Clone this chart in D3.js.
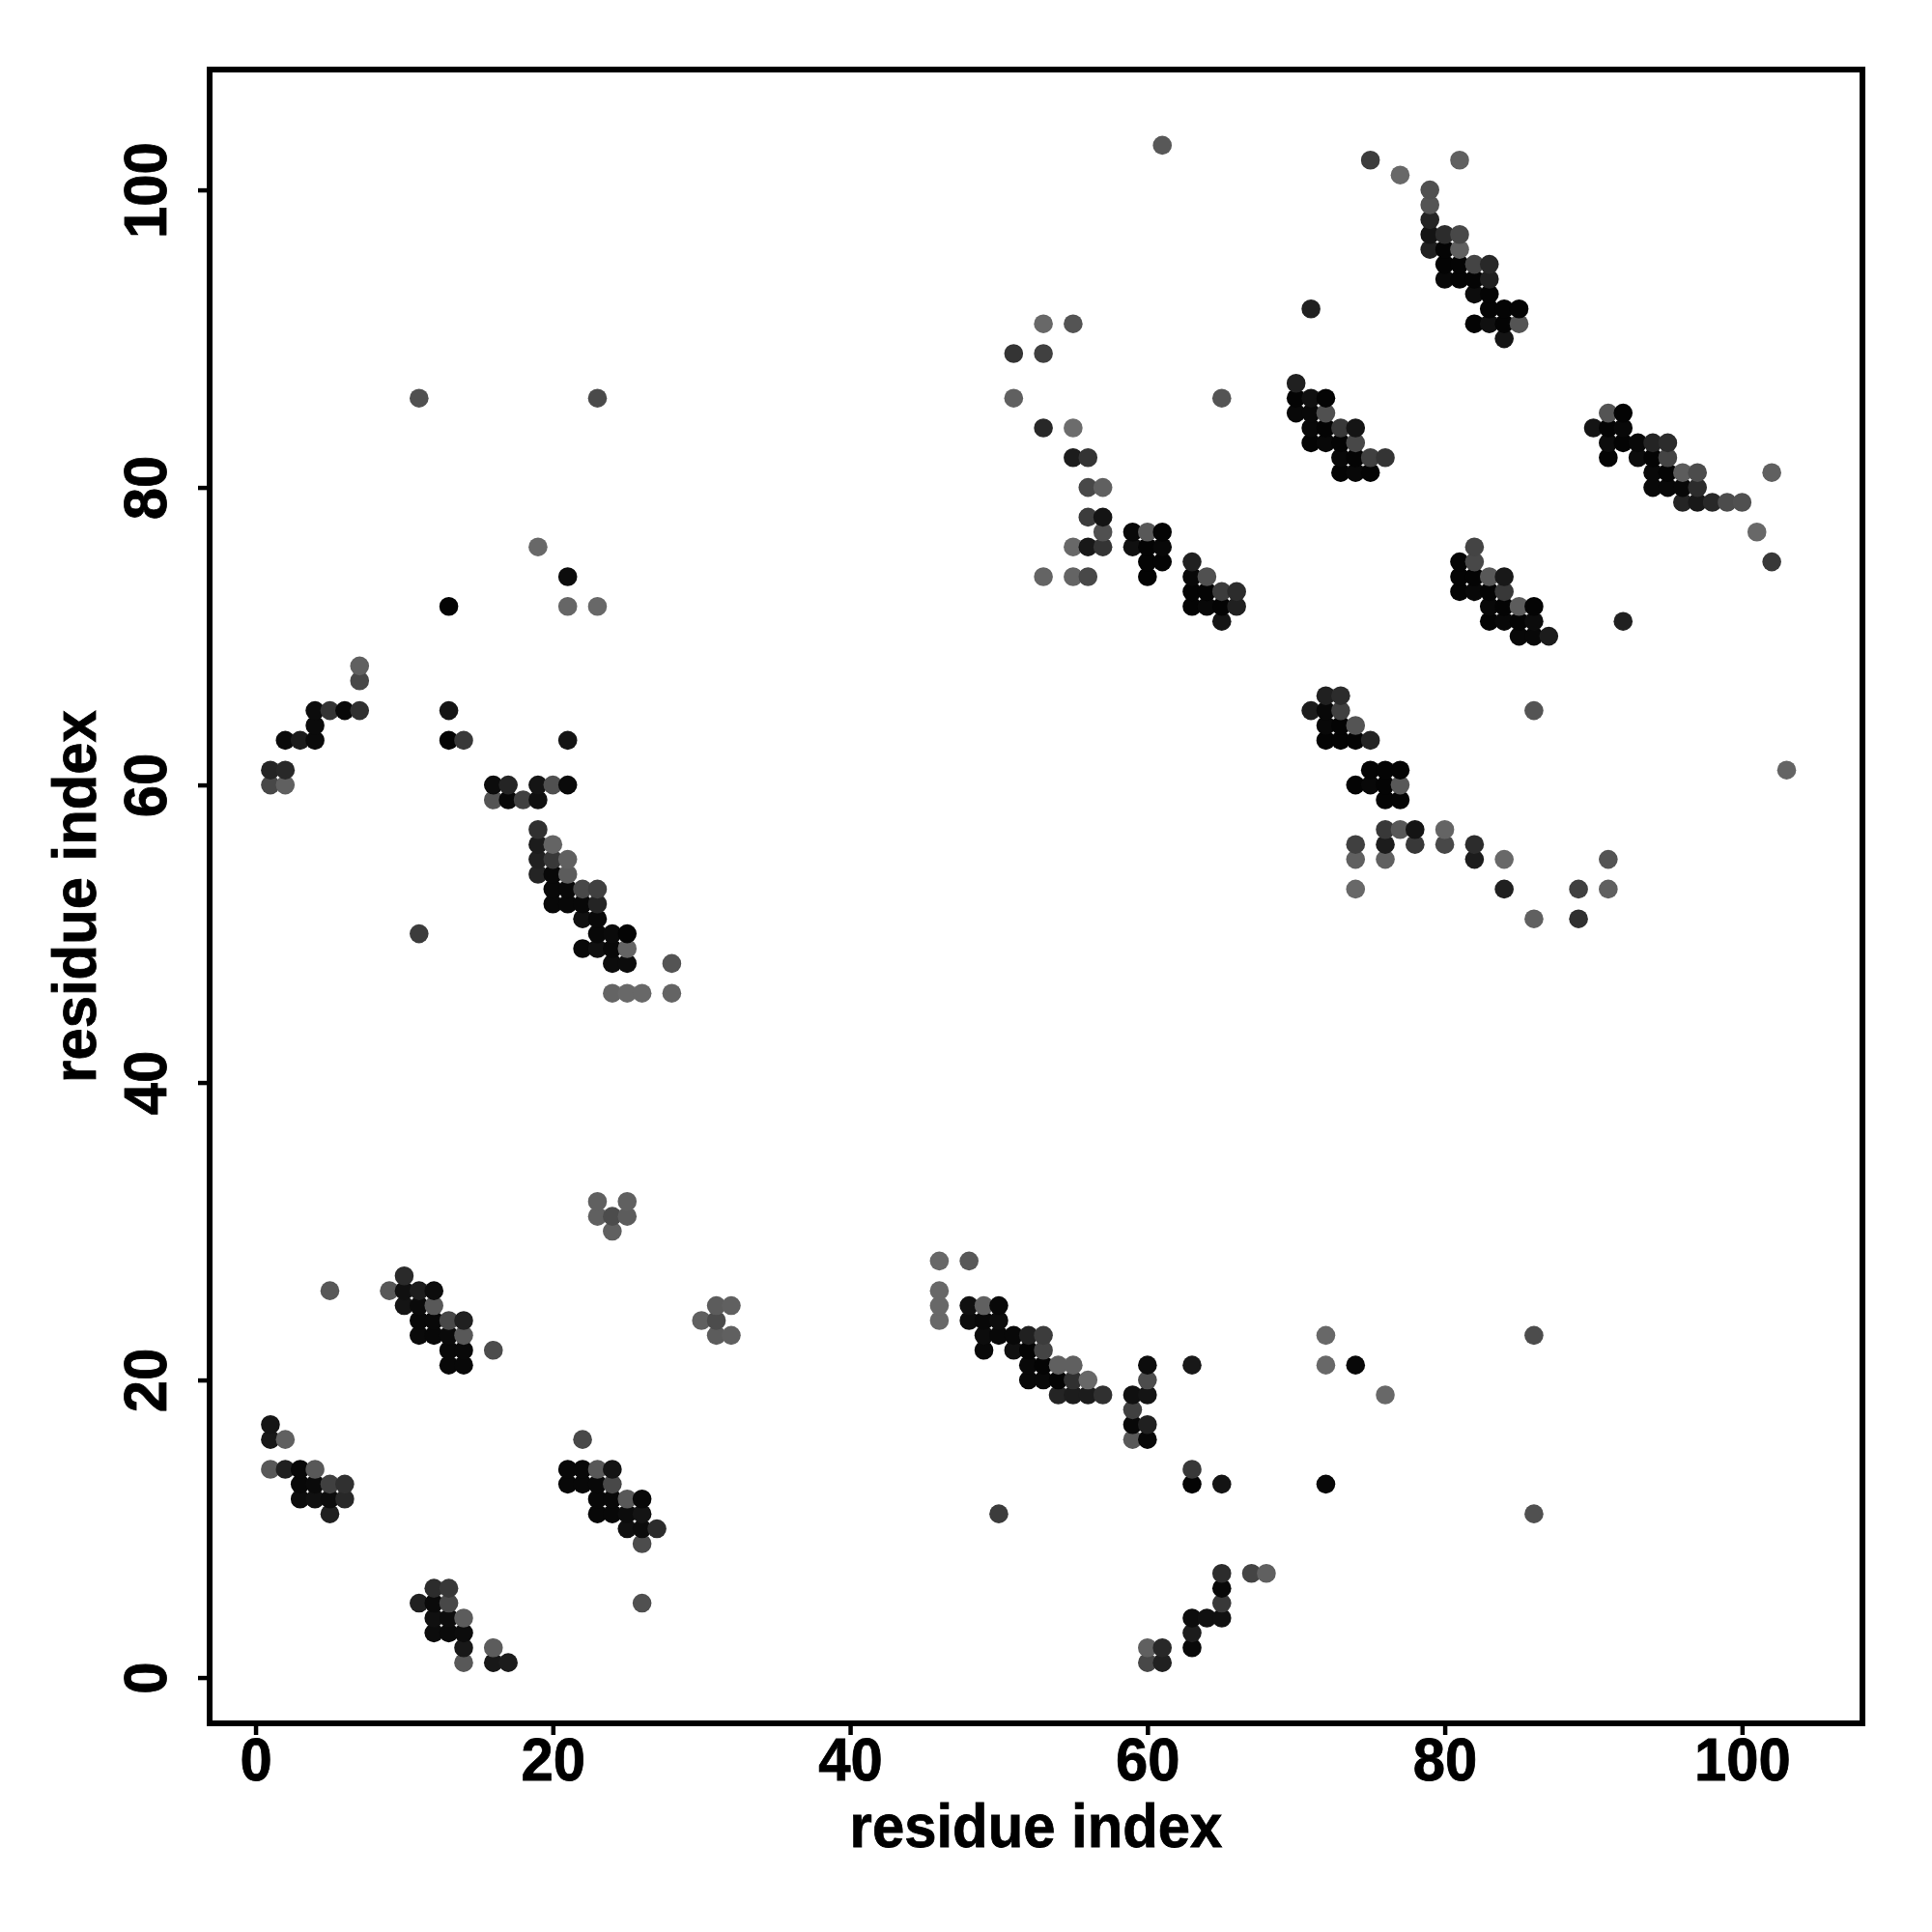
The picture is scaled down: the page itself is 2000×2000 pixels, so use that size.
<!DOCTYPE html>
<html><head><meta charset="utf-8">
<script src="https://cdn.jsdelivr.net/npm/d3@7/dist/d3.min.js"></script>
<style>html,body{margin:0;padding:0;background:#fff}svg{display:block}
text{font-family:"Liberation Sans",Arial,sans-serif;font-weight:700;fill:#000;stroke:#000;stroke-width:0.8px}</style></head>
<body><svg id="c" width="2000" height="2000"></svg>
<script>
// [residue x, residue y, grey level of the contact]
const clusterBottomLeft=[[1,17,0x15],[1,16,0x18],[2,16,0x60],[1,14,0x58],[2,14,0x20],[3,14,0x08],[4,14,0x58],[3,13,0x08],[4,13,0x0a],[5,13,0x40],[6,13,0x30],[3,12,0x0c],[4,12,0x10],[5,12,0x0c],[6,12,0x28],[5,11,0x20]];
const clusterLow=[[12,6,0x2c],[13,6,0x38],[11,5,0x20],[12,5,0x0a],[13,5,0x48],[12,4,0x10],[13,4,0x0c],[14,4,0x5c],[12,3,0x0c],[13,3,0x0a],[14,3,0x0c],[14,2,0x18],[16,2,0x5c],[14,1,0x58],[16,1,0x18],[17,1,0x1c]];
const clusterMid=[[10,27,0x2a],[5,26,0x58],[9,26,0x58],[10,26,0x10],[11,26,0x1c],[12,26,0x0c],[10,25,0x14],[11,25,0x0a],[12,25,0x58],[11,24,0x08],[12,24,0x08],[13,24,0x48],[14,24,0x20],[11,23,0x0a],[12,23,0x08],[13,23,0x0a],[14,23,0x58],[13,22,0x08],[14,22,0x08],[16,22,0x4c],[13,21,0x08],[14,21,0x08]];
const clusterStrand=[[22,16,0x48],[21,14,0x08],[22,14,0x08],[23,14,0x58],[24,14,0x14],[21,13,0x08],[22,13,0x08],[23,13,0x08],[24,13,0x48],[23,12,0x08],[24,12,0x08],[25,12,0x58],[26,12,0x08],[23,11,0x08],[24,11,0x08],[25,11,0x0c],[26,11,0x14],[25,10,0x10],[26,10,0x0c],[27,10,0x2c],[26,9,0x4c],[26,5,0x50]];
const clusterSmall=[[23,32,0x60],[25,32,0x60],[23,31,0x60],[24,31,0x4c],[25,31,0x5c],[24,30,0x60],[31,25,0x5c],[32,25,0x60],[30,24,0x60],[31,24,0x4c],[31,23,0x5c],[32,23,0x60]];
const clusterUpLeft=[[7,68,0x60],[7,67,0x48],[4,65,0x0c],[5,65,0x34],[6,65,0x08],[7,65,0x30],[4,64,0x0a],[2,63,0x0a],[3,63,0x1c],[4,63,0x0a],[13,65,0x14],[13,63,0x04],[14,63,0x38],[21,63,0x14],[1,61,0x24],[2,61,0x28],[1,60,0x48],[2,60,0x60],[16,60,0x0c],[17,60,0x24],[19,60,0x14],[20,60,0x50],[21,60,0x0a],[16,59,0x54],[17,59,0x08],[18,59,0x40],[19,59,0x10]];
const clusterHelix=[[19,57,0x30],[19,56,0x1c],[20,56,0x64],[19,55,0x20],[20,55,0x38],[21,55,0x60],[19,54,0x24],[20,54,0x08],[21,54,0x5c],[20,53,0x08],[21,53,0x08],[22,53,0x48],[23,53,0x40],[20,52,0x08],[21,52,0x08],[22,52,0x08],[23,52,0x24],[22,51,0x10],[23,51,0x08],[11,50,0x3c],[23,50,0x08],[24,50,0x0a],[25,50,0x04],[22,49,0x08],[23,49,0x10],[24,49,0x08],[25,49,0x64],[24,48,0x0c],[25,48,0x0c],[28,48,0x54],[24,46,0x64],[25,46,0x68],[26,46,0x68],[28,46,0x64]];
const clusterSparseLeft=[[19,76,0x68],[21,74,0x0c],[13,72,0x04],[21,72,0x66],[23,72,0x68],[11,86,0x50],[23,86,0x4a]];
const clusterBottomRight=[[46,28,0x68],[48,28,0x58],[46,26,0x68],[46,25,0x68],[48,25,0x10],[49,25,0x60],[50,25,0x08],[46,24,0x68],[48,24,0x0c],[49,24,0x08],[50,24,0x0c],[49,23,0x0c],[50,23,0x08],[51,23,0x08],[52,23,0x20],[53,23,0x3c],[49,22,0x08],[51,22,0x10],[52,22,0x04],[53,22,0x44],[52,21,0x08],[53,21,0x04],[54,21,0x60],[55,21,0x60],[52,20,0x08],[53,20,0x08],[54,20,0x04],[55,20,0x30],[56,20,0x68],[54,19,0x24],[55,19,0x1c],[56,19,0x1c],[57,19,0x30]];
const clusterColumn60=[[60,21,0x0c],[60,20,0x4c],[59,19,0x10],[60,19,0x14],[59,18,0x40],[59,17,0x08],[60,17,0x20],[59,16,0x58],[60,16,0x08],[63,21,0x18],[72,23,0x68],[72,21,0x68],[74,21,0x08],[76,19,0x68],[86,23,0x4c],[86,11,0x50],[63,14,0x38],[63,13,0x04],[65,13,0x14],[72,13,0x08],[50,11,0x3c]];
const clusterBottomCorner=[[65,7,0x2c],[67,7,0x44],[68,7,0x60],[65,6,0x08],[65,5,0x38],[63,4,0x0c],[64,4,0x10],[65,4,0x10],[63,3,0x1c],[63,2,0x08],[60,2,0x60],[61,2,0x28],[60,1,0x48],[61,1,0x20]];
const clusterUpperMid=[[61,103,0x58],[53,91,0x68],[55,91,0x54],[51,89,0x34],[53,89,0x40],[51,86,0x60],[65,86,0x54],[53,84,0x28],[55,84,0x6c],[55,82,0x1c],[56,82,0x34],[56,80,0x48],[57,80,0x60],[56,78,0x3c],[57,78,0x14],[57,77,0x50],[59,77,0x08],[60,77,0x58],[61,77,0x04],[55,76,0x68],[56,76,0x18],[57,76,0x34],[59,76,0x10],[60,76,0x04],[61,76,0x08],[60,75,0x04],[61,75,0x04],[63,75,0x20],[53,74,0x64],[55,74,0x64],[56,74,0x48],[60,74,0x04],[63,74,0x08],[64,74,0x50],[63,73,0x04],[64,73,0x04],[65,73,0x3c],[66,73,0x2c],[63,72,0x04],[64,72,0x08],[65,72,0x04],[66,72,0x20],[65,71,0x14],[71,92,0x20]];
const clusterTop=[[75,102,0x3c],[77,101,0x68],[81,102,0x60],[79,100,0x50],[79,99,0x54],[79,98,0x24],[79,97,0x14],[80,97,0x2c],[81,97,0x48],[79,96,0x20],[80,96,0x04],[81,96,0x60],[80,95,0x04],[81,95,0x04],[82,95,0x44],[83,95,0x28],[80,94,0x08],[81,94,0x04],[82,94,0x04],[83,94,0x20],[82,93,0x0c],[83,93,0x04],[83,92,0x04],[84,92,0x04],[85,92,0x04],[82,91,0x04],[83,91,0x10],[84,91,0x04],[85,91,0x54],[84,90,0x14]];
const clusterUpper70=[[70,87,0x20],[70,86,0x04],[71,86,0x10],[72,86,0x04],[70,85,0x08],[71,85,0x08],[72,85,0x50],[71,84,0x08],[72,84,0x04],[73,84,0x38],[74,84,0x14],[71,83,0x04],[72,83,0x08],[73,83,0x04],[74,83,0x48],[73,82,0x08],[74,82,0x04],[75,82,0x40],[76,82,0x34],[73,81,0x04],[74,81,0x08],[75,81,0x04]];
const clusterUpper90=[[91,85,0x54],[92,85,0x04],[90,84,0x14],[91,84,0x04],[92,84,0x08],[91,83,0x0c],[92,83,0x04],[93,83,0x08],[94,83,0x24],[95,83,0x2c],[91,82,0x04],[93,82,0x0c],[94,82,0x04],[95,82,0x44],[94,81,0x08],[95,81,0x04],[96,81,0x5c],[97,81,0x4c],[102,81,0x60],[94,80,0x08],[95,80,0x08],[96,80,0x08],[97,80,0x2c],[96,79,0x24],[97,79,0x18],[98,79,0x28],[99,79,0x4c],[100,79,0x50],[101,77,0x68],[102,75,0x38],[92,71,0x20],[103,61,0x64],[86,65,0x54]];
const clusterUpper80=[[82,76,0x44],[81,75,0x04],[82,75,0x48],[81,74,0x04],[82,74,0x04],[83,74,0x58],[84,74,0x18],[81,73,0x04],[82,73,0x08],[83,73,0x04],[84,73,0x38],[83,72,0x08],[84,72,0x04],[85,72,0x5c],[86,72,0x04],[83,71,0x04],[84,71,0x08],[85,71,0x04],[86,71,0x0c],[85,70,0x08],[86,70,0x08],[87,70,0x1c]];
const clusterRight=[[72,66,0x20],[73,66,0x2c],[71,65,0x1c],[72,65,0x08],[73,65,0x40],[72,64,0x08],[73,64,0x04],[74,64,0x54],[72,63,0x04],[73,63,0x04],[74,63,0x04],[75,63,0x24],[75,61,0x04],[76,61,0x04],[77,61,0x04],[74,60,0x04],[75,60,0x08],[76,60,0x04],[77,60,0x58],[76,59,0x04],[77,59,0x04],[76,57,0x38],[77,57,0x58],[78,57,0x14],[80,57,0x64],[74,56,0x40],[76,56,0x1c],[78,56,0x38],[80,56,0x48],[82,56,0x2c],[74,55,0x60],[76,55,0x60],[82,55,0x1c],[84,55,0x68],[91,55,0x54],[74,53,0x68],[84,53,0x20],[89,53,0x40],[91,53,0x60],[86,51,0x60],[89,51,0x30]];
const tickValues=[0,20,40,60,80,100];
const xLabel="residue index", yLabel="residue index";

const contacts=[clusterBottomLeft,clusterLow,clusterMid,clusterStrand,clusterSmall,clusterUpLeft,clusterHelix,clusterSparseLeft,clusterBottomRight,clusterColumn60,clusterBottomCorner,clusterUpperMid,clusterTop,clusterUpper70,clusterUpper90,clusterUpper80,clusterRight].flat()
  .sort((a,b)=>a[0]-b[0]||a[1]-b[1]);

const svg=d3.select("#c");
const frame={l:217,r:1928,t:72,b:1784};
const x=d3.scaleLinear().domain([-3.09,108.1]).range([frame.l,frame.r]);
const y=d3.scaleLinear().domain([-3.08,108.09]).range([frame.b,frame.t]);
const grey=d3.scaleLinear().domain([0,255]).range(["#000000","#ffffff"]);

svg.append("g").selectAll("circle").data(contacts).join("circle")
  .attr("cx",d=>x(d[0])).attr("cy",d=>y(d[1])).attr("r",9.8).attr("fill",d=>grey(d[2]));

const fs=63, sx=0.95;
const gx=svg.append("g").attr("transform",`translate(0,${frame.b})`)
  .call(d3.axisBottom(x).tickValues(tickValues).tickSize(12).tickSizeOuter(0).tickFormat(d3.format("d")));
const gy=svg.append("g").attr("transform",`translate(${frame.l},0)`)
  .call(d3.axisLeft(y).tickValues(tickValues).tickSize(12).tickSizeOuter(0).tickFormat(d3.format("d")));
[gx,gy].forEach(g=>{g.select(".domain").remove();g.selectAll("line").attr("stroke","#000").attr("stroke-width",4.5);});
gx.selectAll("text").attr("font-size",fs).attr("text-anchor","middle").attr("y",null).attr("dy",null)
  .attr("transform",`translate(0,59) scale(${sx},1)`);
gy.selectAll("text").attr("font-size",fs).attr("text-anchor","middle").attr("x",null).attr("dy",null)
  .attr("transform",`translate(-45,0) rotate(-90) scale(${sx},1)`);

svg.append("rect").attr("x",frame.l).attr("y",frame.t).attr("width",frame.r-frame.l).attr("height",frame.b-frame.t)
  .attr("fill","none").attr("stroke","#000").attr("stroke-width",6);

svg.append("text").text(xLabel).attr("font-size",fs).attr("text-anchor","middle")
  .attr("transform",`translate(${(frame.l+frame.r)/2},1912) scale(${sx},1)`);
svg.append("text").text(yLabel).attr("font-size",fs).attr("text-anchor","middle")
  .attr("transform",`translate(99,${(frame.t+frame.b)/2}) rotate(-90) scale(${sx},1)`);
</script></body></html>
